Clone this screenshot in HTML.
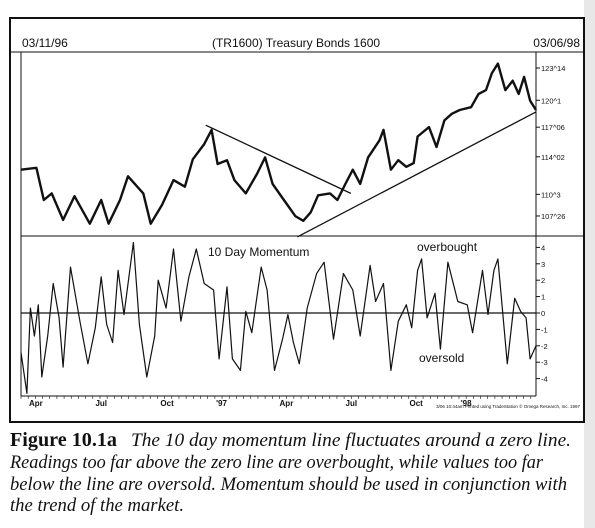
<!DOCTYPE html>
<html><head><meta charset="utf-8"><style>
body{margin:0;background:#fff;}
svg{display:block;}
text{font-family:"Liberation Sans",sans-serif;fill:#111;}
.cap{font-family:"Liberation Serif",serif;font-size:19px;font-style:italic;}
</style></head><body>
<svg id="chart" width="595" height="528" viewBox="0 0 595 528">
<rect x="584" y="0" width="11" height="528" fill="#e8e8e8"/>
<rect x="10" y="18" width="574" height="404" fill="none" stroke="#111" stroke-width="2"/>
<line x1="10" y1="52" x2="584" y2="52" stroke="#111" stroke-width="1"/>
<text x="22" y="47" font-size="12">03/11/96</text>
<text x="296" y="47" font-size="12" text-anchor="middle">(TR1600) Treasury Bonds 1600</text>
<text x="580" y="47" font-size="12" text-anchor="end">03/06/98</text>
<line x1="21" y1="52" x2="21" y2="396" stroke="#111"/>
<line x1="536" y1="52" x2="536" y2="396" stroke="#111"/>
<line x1="21" y1="236" x2="584" y2="236" stroke="#111"/>
<line x1="21" y1="396" x2="536" y2="396" stroke="#111"/>
<g id="g"></g>
<text x="580" y="408" font-size="4.5" text-anchor="end">3/06 10:44am Printed using TradeStation © Omega Research, Inc. 1997</text>
<text y="446" class="cap"><tspan x="10" font-style="normal" font-weight="bold" font-size="20" textLength="107" lengthAdjust="spacingAndGlyphs">Figure 10.1a</tspan><tspan x="131" textLength="440" lengthAdjust="spacingAndGlyphs">The 10 day momentum line fluctuates around a zero line.</tspan></text>
<text x="10" y="468" class="cap" textLength="533" lengthAdjust="spacingAndGlyphs">Readings too far above the zero line are overbought, while values too far</text>
<text x="10" y="490" class="cap" textLength="557" lengthAdjust="spacingAndGlyphs">below the line are oversold. Momentum should be used in conjunction with</text>
<text x="10" y="511" class="cap" textLength="174" lengthAdjust="spacingAndGlyphs">the trend of the market.</text>
</svg>
<script>
const priceWeeks=[0,3.1,4.6,6.2,8.5,10.8,13.9,16.2,17.7,20,21.6,24.7,26.2,28.5,30.8,33.1,34.7,37,38.5,39.7,41.6,43.1,45.4,47.7,49.3,50.8,53.1,55.4,57,58.5,60,62.4,63.9,65.5,67,68.5,70.1,72.4,73.2,74.7,76.2,77.8,79.3,80.1,82.4,83.9,85.5,87,88.6,90.9,92.4,93.9,95.1,96.3,97.8,99.3,100.5,101.6,102.8,104];
const priceValues=[112.7,112.9,109.5,110.2,107.4,109.9,107.0,109.5,107.0,109.5,112.0,110.2,107.0,109.0,111.6,110.9,113.8,115.4,116.9,113.3,113.7,111.6,110.2,112.3,114.0,111.2,109.5,107.8,107.3,108.2,110.0,110.2,109.5,111.2,112.7,111.2,114.0,115.8,116.9,112.7,113.7,113.0,113.4,116.2,117.2,115.1,117.9,118.6,119.0,119.3,120.7,121.1,122.9,123.9,121.1,122.1,120.7,122.5,120.0,119.0];
const momWeeks=[0,1.2,1.9,2.7,3.5,4.2,5.4,6.5,7.7,8.5,10,11.9,13.5,15,16.2,17.3,18.5,19.6,20.8,22.7,23.9,25.4,27,27.7,29.3,30.8,32.3,33.9,35.4,37,38.9,40,41.6,42.7,44.3,45.4,46.6,48.5,49.7,51.2,52.8,53.9,55,56.2,57.8,59.7,61.2,63.1,65.1,67,68.5,70.5,71.6,73.2,74.7,76.2,77.8,78.9,80.1,80.9,82,83.6,84.7,86.2,88.2,90.1,91.2,93.2,94.3,95.5,96.3,98.2,99.7,100.9,102,102.8,104];
const momValues=[-2.4,-4.9,0.3,-1.4,0.5,-3.9,-1.4,1.8,-0.3,-3.3,2.8,-0.5,-3.1,-0.9,2.2,-0.7,-1.8,2.6,-0.1,4.3,-0.7,-3.9,-1.4,2.0,0.3,3.9,-0.5,2.2,3.9,1.8,1.4,-2.8,1.6,-2.8,-3.5,0.1,-1.2,2.8,1.4,-3.5,-1.6,-0.1,-1.8,-3.1,0.3,2.4,3.1,-1.6,2.4,1.4,-1.4,2.9,0.7,1.8,-3.5,-0.5,0.5,-0.9,2.6,3.3,-0.3,1.2,-2.2,3.1,0.7,0.5,-1.2,2.6,-0.1,2.6,3.3,-3.1,0.9,0.1,-0.3,-2.8,-2.0];
const priceTicks=[123.4375,120.03125,117.1875,114.0625,110.09375,107.8125];
const priceTickLabels=["123^14","120^1","117^06","114^02","110^3","107^26"];
const momTicks=[4,3,2,1,0,-1,-2,-3,-4];
const monthWeeks=[3,16.2,29.5,40.5,53.6,66.7,79.8,89.9];
const monthLabels=["Apr","Jul","Oct","'97","Apr","Jul","Oct","'98"];
const downTrend=[[37.3,117.4],[66.6,110.2]];
const upTrend=[[55.8,105.6],[104,118.8]];

const NS="http://www.w3.org/2000/svg";
const g=document.getElementById('g');
const X=w=>21+w*(515/104);
const YP=p=>68+(123.4375-p)*9.47;
const YM=m=>313-m*16.4;
function mk(t,a){const e=document.createElementNS(NS,t);for(const k in a)e.setAttribute(k,a[k]);g.appendChild(e);return e;}

let d=priceWeeks.map((w,i)=>(i?'L':'M')+X(w).toFixed(1)+','+YP(priceValues[i]).toFixed(1)).join('');
let pl=mk('path',{d:d,fill:'none',stroke:'#111','stroke-width':2.4,'stroke-linejoin':'round'});



d=momWeeks.map((w,i)=>(i?'L':'M')+X(w).toFixed(1)+','+YM(momValues[i]).toFixed(1)).join('');
let ml=mk('path',{d:d,fill:'none',stroke:'#111','stroke-width':1.2,'stroke-linejoin':'round'});



let zl=mk('line',{x1:21,x2:536,y1:YM(0),y2:YM(0),stroke:'#111','stroke-width':1.2});



[downTrend,upTrend].forEach((t,i)=>{
 const l=mk('line',{x1:X(t[0][0]),y1:YP(t[0][1]),x2:X(t[1][0]),y2:YP(t[1][1]),stroke:'#111','stroke-width':1.3});
 
 
});

priceTicks.forEach((p,i)=>{
 const y=YP(p);
 const tk=mk('line',{x1:536,x2:540,y1:y,y2:y,stroke:'#111'});
 
 
 const t=mk('text',{x:541,y:y+3,'font-size':7.5});
 t.textContent=priceTickLabels[i];
 
 
});
momTicks.forEach(m=>{
 const y=YM(m);
 const tk=mk('line',{x1:536,x2:540,y1:y,y2:y,stroke:'#111'});
 
 
 const t=mk('text',{x:541,y:y+3,'font-size':7.5});
 t.textContent=m;
 
 
});
for(let w=0;w<=104;w+=1.45){
 const tk=mk('line',{x1:X(w),x2:X(w),y1:396,y2:399,stroke:'#111','stroke-width':0.6});
 
 
}
monthWeeks.forEach((w,i)=>{
 const t=mk('text',{x:X(w),y:406,'font-size':8,'font-weight':'bold','text-anchor':'middle'});
 t.textContent=monthLabels[i];
 
 
});
const lbls=[["10 Day Momentum",208,256,'momentum-label'],["overbought",417,251,'overbought-label'],["oversold",419,362,'oversold-label']];
lbls.forEach(a=>{
 const t=mk('text',{x:a[1],y:a[2],'font-size':12});
 t.textContent=a[0];
 
 
});
</script>
</body></html>
